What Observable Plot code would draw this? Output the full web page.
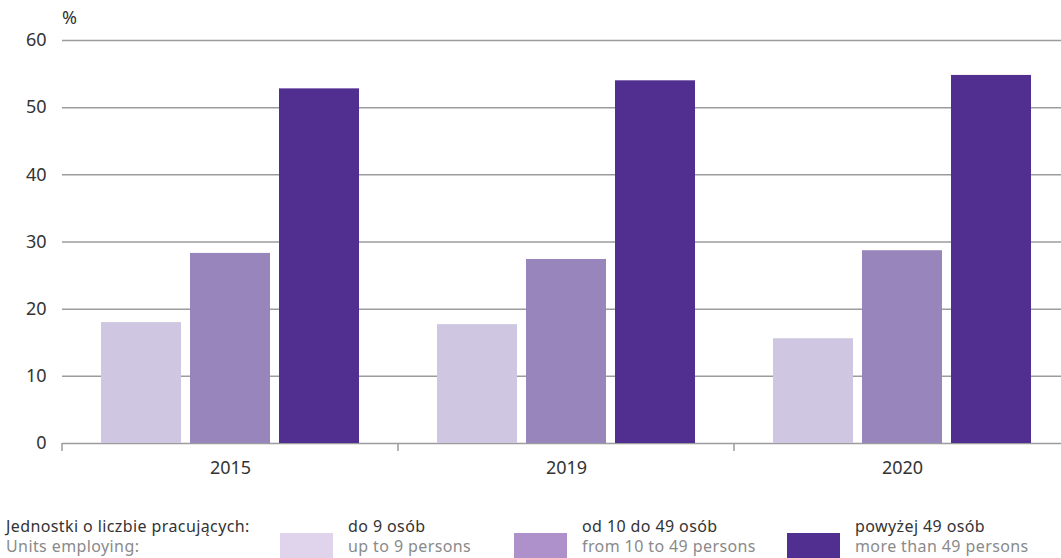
<!DOCTYPE html>
<html>
<head>
<meta charset="utf-8">
<script src="https://cdn.jsdelivr.net/npm/d3@7"></script>
<script src="https://cdn.jsdelivr.net/npm/@observablehq/plot@0.6"></script>
<style>
  html, body { margin: 0; padding: 0; background: #fff; }
  #wrap { position: relative; width: 1061px; height: 558px; overflow: hidden; font-family: "Noto Sans", "Open Sans", sans-serif; }
  #unit { position: absolute; left: 62px; top: 6px; font-size: 18px; line-height: 22px; color: #333; }
  .leg { position: absolute; font-size: 16px; line-height: 20px; letter-spacing: 0.4px; white-space: nowrap; }
  .leg .pl { color: #333; }
  .leg .en { color: #8a8a8a; }
  .sw { position: absolute; width: 53px; height: 26px; }
</style>
</head>
<body>
<div id="wrap">
  <div id="chart"></div>
  <div id="unit">%</div>
  <div id="legend"></div>
</div>
<script>
const years = ["2015", "2019", "2020"];
const seriesPl = ["do 9 osób", "od 10 do 49 osób", "powyżej 49 osób"];
const seriesEn = ["up to 9 persons", "from 10 to 49 persons", "more than 49 persons"];
const upTo9 = [18.0, 17.7, 15.6];
const from10to49 = [28.3, 27.4, 28.7];
const over49 = [52.8, 54.0, 54.8];
const yTicks = [0, 10, 20, 30, 40, 50, 60];
const barColors = ["#cfc7e2", "#9885bc", "#512f91"];
const swatchColors = ["#e0d4ec", "#ae90cb", "#512f91"];
const legendTitlePl = "Jednostki o liczbie pracujących:";
const legendTitleEn = "Units employing:";

const valuesBySeries = [upTo9, from10to49, over49];
const data = [];
years.forEach((yr, i) => {
  seriesPl.forEach((s, j) => data.push({year: yr, series: s, value: valuesBySeries[j][i]}));
});

const gridColor = "#9c9c9c";

const chart = Plot.plot({
  width: 1061,
  height: 490,
  marginLeft: 62,
  marginRight: -9,
  marginTop: 40,
  marginBottom: 47,
  style: {fontFamily: "'Noto Sans', 'Open Sans', sans-serif", color: "#333", background: "white"},
  fx: {domain: years, padding: 0, label: null},
  x: {domain: seriesPl, paddingInner: 0.1, paddingOuter: 0.4167, axis: null},
  y: {domain: [0, 60], label: null},
  color: {domain: seriesPl, range: barColors},
  marks: [
    Plot.ruleY(yTicks.filter(d => d > 0), {stroke: gridColor, strokeWidth: 1.5}),
    Plot.ruleY([0], {stroke: gridColor, strokeWidth: 1.5}),
    Plot.barY(data, {fx: "year", x: "series", y: "value", fill: "series"}),
    Plot.axisY({ticks: yTicks, tickSize: 0, tickPadding: 16, fontSize: 18, label: null, fill: "#333"}),
    Plot.axisFx({anchor: "bottom", tickSize: 0, tickPadding: 18, fontSize: 18, label: null, fill: "#333"})
  ]
});
document.getElementById("chart").appendChild(chart);

// boundary tick marks of the category axis, placed through Plot's own scales
const fxScale = chart.scale("fx");
const yScale = chart.scale("y");
const y0 = yScale.apply(0);
const svg = d3.select(chart);
years.forEach(yr => {
  const xb = fxScale.apply(yr);
  svg.append("line")
    .attr("x1", xb).attr("x2", xb)
    .attr("y1", y0).attr("y2", y0 + 8)
    .attr("stroke", gridColor).attr("stroke-width", 1.5);
});

// legend
const legend = document.getElementById("legend");
function addText(left, top, pl, en) {
  const d = document.createElement("div");
  d.className = "leg";
  d.style.left = left + "px";
  d.style.top = top + "px";
  d.innerHTML = `<div class="pl">${pl}</div><div class="en">${en}</div>`;
  legend.appendChild(d);
}
addText(6, 516, legendTitlePl, legendTitleEn);
const swLeft = [280, 514, 787];
seriesPl.forEach((s, i) => {
  const sw = document.createElement("div");
  sw.className = "sw";
  sw.style.left = swLeft[i] + "px";
  sw.style.top = "533px";
  sw.style.background = swatchColors[i];
  legend.appendChild(sw);
  addText(swLeft[i] + 68, 516, s, seriesEn[i]);
});
</script>
</body>
</html>
